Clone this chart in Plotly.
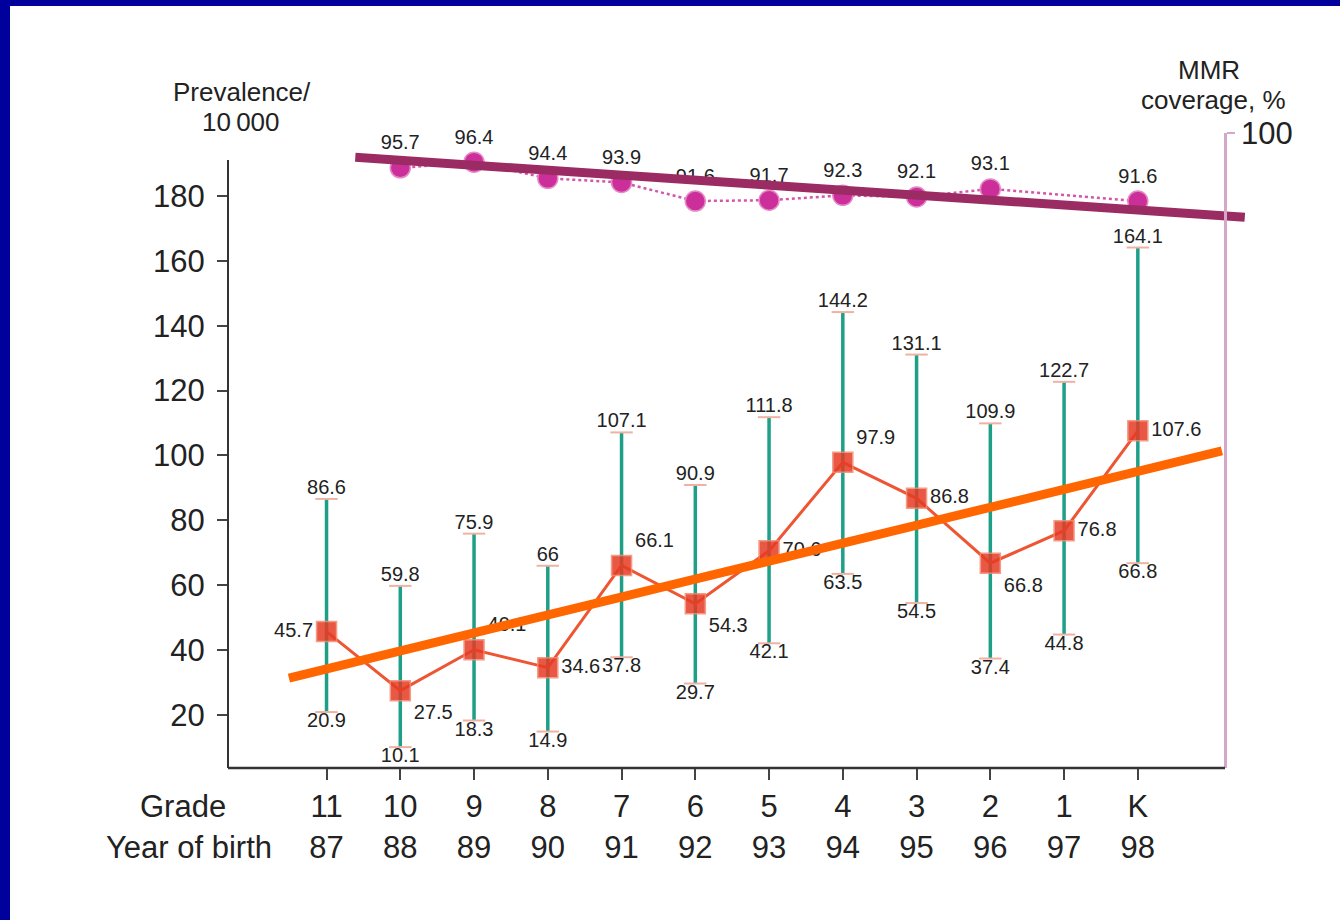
import plotly.graph_objects as go

# ---- data ----
grades = ["11", "10", "9", "8", "7", "6", "5", "4", "3", "2", "1", "K"]
birth_years = ["87", "88", "89", "90", "91", "92", "93", "94", "95", "96", "97", "98"]
prevalence = [45.7, 27.5, 40.1, 34.6, 66.1, 54.3, 70.6, 97.9, 86.8, 66.8, 76.8, 107.6]
ci_upper = [86.6, 59.8, 75.9, 66, 107.1, 90.9, 111.8, 144.2, 131.1, 109.9, 122.7, 164.1]
ci_lower = [20.9, 10.1, 18.3, 14.9, 37.8, 29.7, 42.1, 63.5, 54.5, 37.4, 44.8, 66.8]
mmr_coverage = [None, 95.7, 96.4, 94.4, 93.9, 91.6, 91.7, 92.3, 92.1, 93.1, None, 91.6]
left_ticks = [20, 40, 60, 80, 100, 120, 140, 160, 180]
right_ticks = [100]
# hand-drawn trend lines (category position, value)
prev_trend_x = [-0.51, 12.14]
prev_trend_y = [31.4, 101.4]
mmr_trend_x = [0.39, 12.45]
mmr_trend_y = [97.0, 89.6]

FONT = "Liberation Sans, Arial, sans-serif"
W, H = 1340, 920
ML, MR, MT, MB = 228, 95, 133, 152
PW, PH = W - ML - MR, H - MT - MB


def px_x(p):
    return (p - ML) / PW


def px_y(p):
    return (H - MB - p) / PH


idx = list(range(len(grades)))
fmt = lambda v: f"{v:g}"
LBL = dict(family=FONT, size=20, color="#222")

fig = go.Figure()

# confidence interval bars (teal)
ci_x, ci_y = [], []
for i, lo, hi in zip(idx, ci_lower, ci_upper):
    ci_x += [i, i, None]
    ci_y += [lo, hi, None]
fig.add_trace(go.Scatter(x=ci_x, y=ci_y, mode="lines",
                         line=dict(color="#1f9e88", width=3.5),
                         hoverinfo="skip", showlegend=False))

# caps
fig.add_trace(go.Scatter(x=idx + idx, y=ci_upper + ci_lower, mode="markers",
                         marker=dict(symbol="line-ew", size=16,
                                     line=dict(color="#efb2a2", width=2)),
                         hoverinfo="skip", showlegend=False))

# upper / lower CI labels
fig.add_trace(go.Scatter(x=idx, y=ci_upper, mode="text",
                         text=[fmt(v) for v in ci_upper], textposition="top center",
                         textfont=LBL, showlegend=False, cliponaxis=False))
fig.add_trace(go.Scatter(x=idx, y=ci_lower, mode="text",
                         text=[fmt(v) for v in ci_lower], textposition="bottom center",
                         textfont=LBL, showlegend=False, cliponaxis=False))

# prevalence
prev_pos = ["middle left", "bottom right", "top right", "middle right", "top right",
            "bottom right", "middle right", "top right", "middle right",
            "bottom right", "middle right", "middle right"]
fig.add_trace(go.Scatter(x=idx, y=prevalence, mode="lines+markers+text",
                         line=dict(color="#ee5533", width=3),
                         marker=dict(symbol="square", size=20, color="#e63b24",
                                     opacity=0.85,
                                     line=dict(color="#f38a70", width=1.5)),
                         text=[fmt(v) for v in prevalence], textposition=prev_pos,
                         textfont=LBL, showlegend=False, cliponaxis=False))

# MMR coverage (right axis)
fig.add_trace(go.Scatter(x=idx, y=mmr_coverage, yaxis="y2",
                         mode="lines+markers+text", connectgaps=True,
                         line=dict(color="#d456ab", width=2.5, dash="dot"),
                         marker=dict(symbol="circle", size=20, color="#cc2f9a",
                                     line=dict(color="#e58ac6", width=1.5)),
                         text=[fmt(v) if v is not None else "" for v in mmr_coverage],
                         textposition="top center",
                         textfont=LBL, showlegend=False, cliponaxis=False))

# trend lines
fig.add_trace(go.Scatter(x=prev_trend_x, y=prev_trend_y, mode="lines",
                         line=dict(color="#ff6600", width=9),
                         hoverinfo="skip", showlegend=False))
fig.add_trace(go.Scatter(x=mmr_trend_x, y=mmr_trend_y, yaxis="y2", mode="lines",
                         line=dict(color="#9b2b63", width=9),
                         hoverinfo="skip", showlegend=False))

right_pos = px_x(1225)
BLUE = "#00009c"

shapes = [
    # blue frame strips (left and top)
    dict(type="rect", xref="paper", yref="paper", x0=px_x(0), x1=px_x(10),
         y0=px_y(H), y1=px_y(0), fillcolor=BLUE, line=dict(width=0), layer="below"),
    dict(type="rect", xref="paper", yref="paper", x0=px_x(0), x1=px_x(W),
         y0=px_y(6), y1=px_y(0), fillcolor=BLUE, line=dict(width=0), layer="below"),
    # keep right edge white below the top strip
    dict(type="rect", xref="paper", yref="paper", x0=px_x(1320), x1=px_x(W + 20),
         y0=px_y(H + 20), y1=px_y(6), fillcolor="white", line=dict(width=0),
         layer="above"),
    # x axis line
    dict(type="line", xref="paper", yref="paper", x0=0, x1=right_pos, y0=0, y1=0,
         line=dict(color="#333", width=2.5)),
    # left axis line
    dict(type="line", xref="paper", yref="paper", x0=0, x1=0, y0=0, y1=px_y(160),
         line=dict(color="#333", width=2)),
]


def ann(text, x, y, size=26):
    return dict(text=text, xref="paper", yref="paper", x=px_x(x), y=px_y(y),
                xanchor="center", yanchor="middle", showarrow=False,
                font=dict(family=FONT, size=size, color="#222"))


annotations = [
    ann("Prevalence/", 242, 92),
    ann("10\u2009000", 241, 122),
    ann("MMR", 1209, 70),
    ann("coverage, %", 1213, 100),
    ann("Grade", 183, 806, 31),
    ann("Year of birth", 189, 847, 31),
]

fig.update_layout(
    width=W, height=H,
    margin=dict(l=ML, r=MR, t=MT, b=MB),
    paper_bgcolor="white", plot_bgcolor="rgba(0,0,0,0)",
    showlegend=False,
    xaxis=dict(range=[-1.336, 12.453], tickmode="array", tickvals=idx,
               ticktext=[f"{g}<br>{y}" for g, y in zip(grades, birth_years)],
               ticks="outside", ticklen=11, tickwidth=2, tickcolor="#444",
               showline=False, showgrid=False, zeroline=False,
               tickfont=dict(family=FONT, size=31, color="#222")),
    yaxis=dict(range=[3.66, 199.4], tickmode="array", tickvals=left_ticks,
               ticks="outside", ticklen=10, tickwidth=2, tickcolor="#444",
               ticklabelstandoff=6,
               showline=False, showgrid=False, zeroline=False,
               tickfont=dict(family=FONT, size=31, color="#222")),
    yaxis2=dict(range=[21.6, 100], overlaying="y", anchor="free", position=right_pos,
                side="right", tickmode="array", tickvals=right_ticks,
                ticks="outside", ticklen=8, tickwidth=2, tickcolor="#d4a8c8",
                showline=True, linecolor="#d4a8c8", linewidth=2.5,
                showgrid=False, zeroline=False,
                tickfont=dict(family=FONT, size=31, color="#222")),
    shapes=shapes,
    annotations=annotations,
)

fig.write_html(
    "out.html",
    config={"displayModeBar": False},
    post_script=("document.documentElement.style.background='white';"
                 "document.body.style.margin='0';"
                 "document.body.style.overflow='hidden';"),
)
